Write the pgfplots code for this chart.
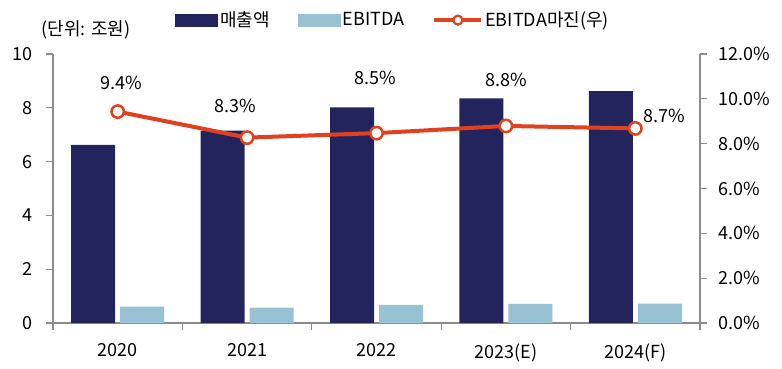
\documentclass[border=0pt]{standalone}
\usepackage{fontspec}
\setmainfont{Noto Sans CJK KR}
\usepackage{pgfplots}
\pgfplotsset{compat=1.18}
\definecolor{navy}{HTML}{23245E}
\definecolor{lblue}{HTML}{98C2D4}
\definecolor{lred}{HTML}{E1411E}
\definecolor{axgray}{HTML}{8C8C8C}
\begin{document}
\begin{tikzpicture}[font=\fontsize{18bp}{21bp}\selectfont]
\useasboundingbox (-53bp,-46bp) rectangle (729bp,323bp);
\begin{axis}[
  scale only axis, width=647bp, height=269bp,
  xmin=-0.5, xmax=4.5, ymin=0, ymax=10,
  axis x line*=bottom, axis y line*=left,
  axis line style={draw=axgray, line width=1.3bp},
  tick align=outside, major tick length=7bp,
  tick style={draw=axgray, line width=1.2bp},
  ytick={0,2,...,10},
  /pgf/number format/assume math mode=true,
  yticklabel style={xshift=-10bp, font=\fontsize{18bp}{21bp}\selectfont},
  xtick={-0.5,0.5,...,4.5}, xticklabels={},
  extra x ticks={0,1,2,3,4},
  extra x tick labels={2020,2021,2022,2023(E),2024(F)},
  extra x tick style={major tick length=0pt, xticklabel style={yshift=-17bp, font=\fontsize{18bp}{21bp}\selectfont}},
  ybar, bar width=44bp,
  legend style={at={(0.5255,1.126)}, anchor=center, draw=none, fill=none,
    font=\fontsize{18bp}{21bp}\selectfont,
    /tikz/every even column/.append style={column sep=26bp}},
  legend columns=3,
  clip=false,
]
\addplot[fill=navy, draw=none, bar shift=-24.5bp,
  legend image code/.code={\fill[navy] (0bp,-6.5bp) rectangle (43bp,6.5bp);}]
  coordinates {(0,6.62) (1,7.15) (2,8.02) (3,8.35) (4,8.62)};
\addlegendentry{매출액}
\addplot[fill=lblue, draw=none, bar shift=24.5bp,
  legend image code/.code={\fill[lblue] (0bp,-6.5bp) rectangle (43bp,6.5bp);}]
  coordinates {(0,0.61) (1,0.57) (2,0.67) (3,0.71) (4,0.72)};
\addlegendentry{EBITDA}
\addlegendimage{legend image code/.code={
  \draw[lred, line width=4bp] (0bp,0bp) -- (47bp,0bp);
  \draw[lred, line width=2.2bp, fill=white] (23.5bp,0bp) circle (4.5bp);}}
\addlegendentry{EBITDA마진(우)}
\node[font=\fontsize{18bp}{21bp}\selectfont] at (rel axis cs:0.051,1.089) {(단위: 조원)};
\end{axis}
\begin{axis}[
  scale only axis, width=647bp, height=269bp,
  xmin=-0.5, xmax=4.5, ymin=0, ymax=12,
  axis x line=none, axis y line*=right,
  axis line style={draw=axgray, line width=1.3bp},
  tick align=outside, major tick length=7bp,
  tick style={draw=axgray, line width=1.2bp},
  ytick={0,2,...,12},
  /pgf/number format/assume math mode=true,
  yticklabel={\pgfmathprintnumber[fixed,fixed zerofill,precision=1]{\tick}\%},
  yticklabel style={xshift=8bp, font=\fontsize{18bp}{21bp}\selectfont},
  clip=false,
]
\addplot[lred, line width=4bp, mark=*, mark size=6.2bp,
  mark options={fill=white, draw=lred, line width=2.5bp}]
  coordinates {(0,9.43) (1,8.27) (2,8.47) (3,8.79) (4,8.68)};
\addplot[draw=none, mark=none, nodes near coords={9.4\%},
  every node near coord/.append style={anchor=center, xshift=3.5bp, yshift=28.5bp}] coordinates {(0,9.43)};
\addplot[draw=none, mark=none, nodes near coords={8.3\%},
  every node near coord/.append style={anchor=center, xshift=-12bp, yshift=31.5bp}] coordinates {(1,8.27)};
\addplot[draw=none, mark=none, nodes near coords={8.5\%},
  every node near coord/.append style={anchor=center, xshift=-1bp, yshift=55bp}] coordinates {(2,8.47)};
\addplot[draw=none, mark=none, nodes near coords={8.8\%},
  every node near coord/.append style={anchor=center, xshift=0bp, yshift=46bp}] coordinates {(3,8.79)};
\addplot[draw=none, mark=none, nodes near coords={8.7\%},
  every node near coord/.append style={anchor=center, xshift=28.5bp, yshift=13bp}] coordinates {(4,8.68)};
\end{axis}
\end{tikzpicture}
\end{document}
